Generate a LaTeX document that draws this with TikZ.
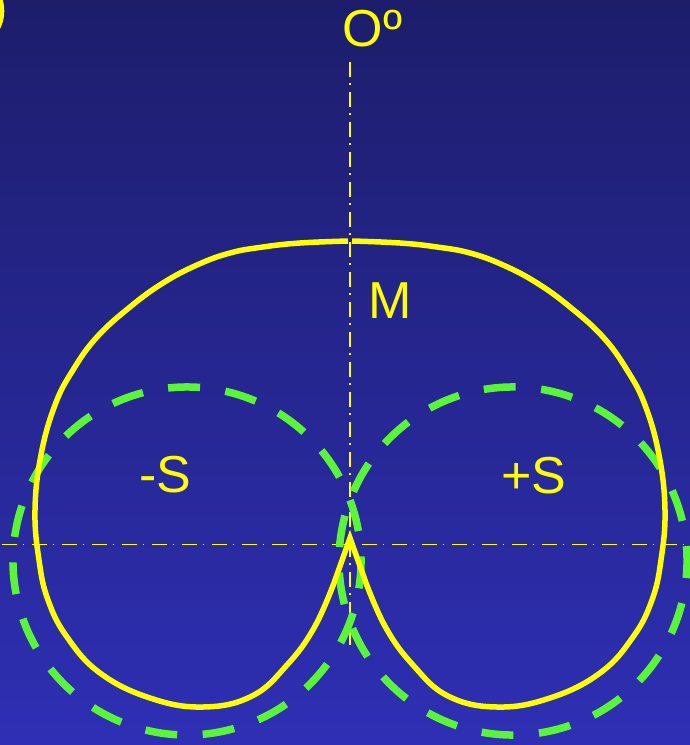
\documentclass[tikz,border=0pt]{standalone}
\usepackage{fontspec}
\setmainfont{Liberation Sans}
\definecolor{fondhaut}{RGB}{29,29,108}
\definecolor{fondbas}{RGB}{46,47,180}
\definecolor{jaune}{RGB}{255,255,0}
\definecolor{vert}{RGB}{90,245,56}

\begin{document}
\begin{tikzpicture}[x=1pt,y=-1pt,
  cardio/.style={jaune, line width=5.5pt, line join=miter},
  cercle/.style={vert, line width=7.5pt, dash pattern=on 32pt off 25.54pt},
  axe/.style={jaune, line width=1.4pt, dash pattern=on 15pt off 6pt on 1.5pt off 7.5pt},
  etiq/.style={jaune, font=\fontsize{52}{52}\selectfont, inner sep=0pt, anchor=base west}]
%fond
\useasboundingbox (0,0) rectangle (690,745);
\shade[top color=fondhaut, bottom color=fondbas] (0,0) rectangle (690,745);
\fill[jaune] (-35.7,11) circle[radius=40];

%axes
\coordinate (ha) at (350,62);
\coordinate (ba) at (350,645);
\coordinate (ga) at (0,544.5);
\coordinate (da) at (690,544.5);
\draw[axe] (ha) -- (ba);
\draw[axe, dash phase=28.3pt] (ga) -- (da);

%cercles -S et +S
\coordinate (cg) at (187,561);
\coordinate (cd) at (513,561);
\draw[cercle] (cg) ++(74.3:174) arc[start angle=74.3, delta angle=360, radius=174];
\draw[cercle] (cd) ++(70.9:174) arc[start angle=70.9, delta angle=360, radius=174];

%courbe M
\draw[cardio] plot[smooth, tension=0.7] coordinates {(348,241) (300,243) (263,247) (230,253) (197,265)
  (163,283) (130,307) (97,337) (73,370) (55,405) (41,455) (35,510) (39,560) (48,600)
  (67,637) (100,673) (150,698) (203,707) (252,696) (287,665) (314,628) (334,583)}
  -- (350,538)
  -- plot[smooth, tension=0.7] coordinates {(366,583) (386,628) (413,665) (448,696) (497,707)
  (550,698) (600,673) (633,637) (652,600) (661,560) (665,510) (659,455) (645,405)
  (627,370) (603,337) (570,307) (537,283) (503,265) (470,253) (437,247) (400,243) (352,241)};

%etiquettes
\node[etiq] (zero) at (342.5,46) {Oº};
\node[etiq] (m) at (368,318) {M};
\node[etiq] (moins) at (139,492) {-S};
\node[etiq] (plus) at (501,493) {+S};
\end{tikzpicture}
\end{document}
